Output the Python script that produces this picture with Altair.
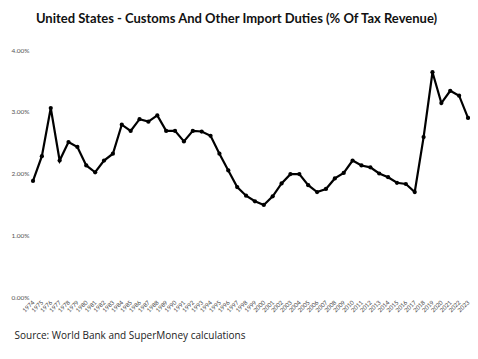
import altair as alt
import pandas as pd

years = list(range(1974, 2024))
values = [1.88, 2.28, 3.06, 2.21, 2.51, 2.43, 2.13, 2.02, 2.21, 2.32,
          2.79, 2.69, 2.88, 2.84, 2.94, 2.69, 2.69, 2.52, 2.69, 2.68,
          2.61, 2.32, 2.05, 1.78, 1.64, 1.55, 1.49, 1.63, 1.84, 1.99,
          1.99, 1.81, 1.70, 1.75, 1.92, 2.01, 2.21, 2.13, 2.10, 2.00,
          1.94, 1.85, 1.83, 1.70, 2.59, 3.64, 3.14, 3.34, 3.26, 2.90]
y_ticks = [0, 0.01, 0.02, 0.03, 0.04]

df = pd.DataFrame({"year": years, "share": [v / 100 for v in values]})

base = alt.Chart(df).encode(
    x=alt.X("year:Q",
            scale=alt.Scale(domain=[1974, 2023], nice=False, zero=False),
            axis=alt.Axis(values=years, format="d", labelAngle=315, labelAlign="right",
                          labelBaseline="middle", labelFontSize=6, labelColor="#444",
                          labelFont="Lato", labelPadding=4, domain=False, ticks=False,
                          tickSize=0, grid=False, labelOverlap=False,
                          title="Source: World Bank and SuperMoney calculations",
                          titleFont="Open Sans", titleFontSize=10, titleFontWeight="normal",
                          titleColor="#222", titleAnchor="start", titleAlign="left",
                          titleX=-19, titleY=38, titleBaseline="middle")),
    y=alt.Y("share:Q",
            scale=alt.Scale(domain=[0, 0.04], nice=False),
            axis=alt.Axis(values=y_ticks, format=".2%", labelAlign="right",
                          labelPadding=4, labelFontSize=6.5, labelColor="#555",
                          labelFont="Lato", domain=False, ticks=False, tickSize=0,
                          grid=False, title=None)),
)

line = base.mark_line(color="black", strokeWidth=2.2)
pts = base.mark_circle(color="black", size=18, opacity=1)

chart = (line + pts).properties(
    width=435,
    height=247,
    autosize=alt.AutoSizeParams(type="none"),
    padding={"left": 25, "top": 42, "right": 2, "bottom": 54},
    title=alt.TitleParams("United States - Customs And Other Import Duties (% Of Tax Revenue)",
                          font="Lato", fontSize=13, fontWeight="bold", color="#111",
                          anchor="middle", dx=-14, offset=21),
).configure_view(stroke=None)

chart.save("out.html", embed_options={"renderer": "svg", "actions": False})
